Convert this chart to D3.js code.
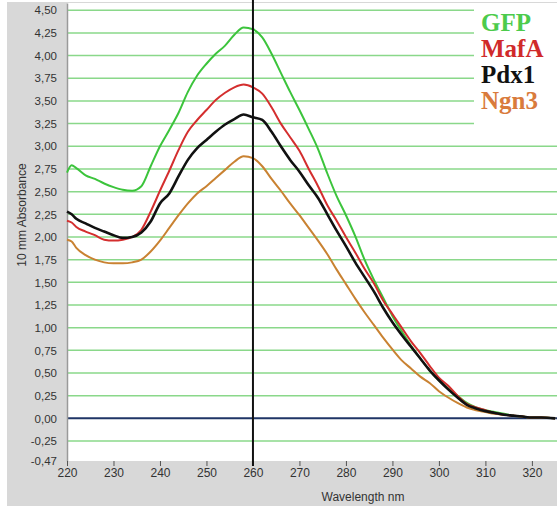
<!DOCTYPE html>
<html>
<head>
<meta charset="utf-8">
<script src="https://cdn.jsdelivr.net/npm/d3@7"></script>
<style>
  body { margin: 0; background: #fff; }
  text { font-family: "Liberation Sans", Arial, sans-serif; }
</style>
</head>
<body>
<div id="chart"></div>
<script>
// wavelengths (nm) shared by all spectra
var wavelengths = [220, 221, 222, 224, 226, 228, 230, 232, 234, 236, 238, 240, 242, 244, 246, 248, 250,
  252, 254, 256, 258, 260, 262, 264, 266, 268, 270, 272, 274, 276, 278, 280, 282, 284, 286, 288, 290,
  292, 294, 296, 298, 300, 302, 304, 306, 308, 310, 312, 314, 316, 318, 320, 322, 325];

// absorbance values
var gfp = [2.71, 2.79, 2.76, 2.68, 2.64, 2.59, 2.55, 2.52, 2.51, 2.56, 2.78, 3.00, 3.18, 3.37, 3.60, 3.78, 3.91,
  4.02, 4.11, 4.23, 4.31, 4.29, 4.20, 4.02, 3.81, 3.60, 3.40, 3.19, 2.97, 2.70, 2.45, 2.24, 2.01, 1.75, 1.53, 1.33, 1.13,
  0.96, 0.80, 0.66, 0.53, 0.42, 0.33, 0.25, 0.17, 0.12, 0.09, 0.07, 0.05, 0.03, 0.02, 0.01, 0.01, 0.00];
var mafa = [2.18, 2.16, 2.11, 2.06, 2.02, 1.97, 1.96, 1.97, 2.00, 2.08, 2.28, 2.51, 2.73, 2.96, 3.16, 3.29, 3.40,
  3.51, 3.59, 3.65, 3.68, 3.65, 3.58, 3.43, 3.25, 3.10, 2.95, 2.75, 2.56, 2.35, 2.18, 2.00, 1.83, 1.65, 1.49, 1.30, 1.15,
  1.00, 0.85, 0.72, 0.58, 0.45, 0.36, 0.25, 0.16, 0.12, 0.09, 0.06, 0.04, 0.03, 0.02, 0.01, 0.01, 0.00];
var pdx1 = [2.28, 2.25, 2.20, 2.15, 2.10, 2.06, 2.02, 1.99, 2.00, 2.05, 2.17, 2.37, 2.48, 2.67, 2.85, 2.98, 3.07,
  3.16, 3.24, 3.30, 3.35, 3.32, 3.29, 3.16, 3.00, 2.85, 2.72, 2.57, 2.43, 2.25, 2.07, 1.90, 1.72, 1.56, 1.40, 1.22, 1.06,
  0.92, 0.79, 0.66, 0.53, 0.42, 0.32, 0.23, 0.15, 0.11, 0.08, 0.06, 0.04, 0.03, 0.02, 0.01, 0.01, 0.00];
var ngn3 = [1.97, 1.95, 1.88, 1.80, 1.75, 1.72, 1.71, 1.71, 1.72, 1.75, 1.84, 1.96, 2.10, 2.24, 2.37, 2.48, 2.56,
  2.65, 2.74, 2.83, 2.89, 2.87, 2.78, 2.64, 2.51, 2.37, 2.24, 2.10, 1.96, 1.81, 1.64, 1.48, 1.32, 1.17, 1.03, 0.89, 0.76,
  0.64, 0.55, 0.46, 0.39, 0.30, 0.23, 0.17, 0.12, 0.09, 0.07, 0.05, 0.04, 0.03, 0.02, 0.01, 0.01, 0.00];

var seriesNames = ["GFP", "MafA", "Pdx1", "Ngn3"];

// tick labels
var yTicks = [4.5, 4.25, 4, 3.75, 3.5, 3.25, 3, 2.75, 2.5, 2.25, 2, 1.75, 1.5, 1.25, 1, 0.75, 0.5, 0.25, 0, -0.25, -0.47];
var xTicks = [220, 230, 240, 250, 260, 270, 280, 290, 300, 310, 320];
var markerWavelength = 260;

//svg sizes
var svgWidth = 557;
var svgHeight = 506;

//plot area edges
var plot = { left: 67, right: 557, top: 3, bottom: 461 };

var lineColors = ["#3cc43c", "#d42e2e", "#111111", "#c98232"];
var legendColors = ["#4ccb4c", "#d02a2a", "#111111", "#d97b3c"];

var svg = d3.select("#chart")
  .append("svg")
  .attr("width", svgWidth)
  .attr("height", svgHeight);

// grey window background
svg.append("rect")
  .attr("x", 7)
  .attr("y", 2)
  .attr("width", svgWidth - 7)
  .attr("height", svgHeight - 2)
  .attr("fill", "#d8d8d8");

// white plot area
svg.append("rect")
  .attr("x", plot.left)
  .attr("y", plot.top)
  .attr("width", plot.right - plot.left)
  .attr("height", plot.bottom - plot.top)
  .attr("fill", "#ffffff");

// scales
var xScale = d3.scaleLinear()
  .domain([220, 325.4])
  .range([plot.left, plot.right]);

var yScale = d3.scaleLinear()
  .domain([-0.47, 4.58])
  .range([plot.bottom, plot.top]);

var fmt = function(d) { return d3.format(".2f")(d).replace(".", ",").replace("−", "-"); };

// horizontal grid lines
var gridVals = yTicks.filter(function(d) { return d !== -0.47; });
svg.append("g")
  .selectAll("line")
  .data(gridVals)
  .enter()
  .append("line")
  .attr("x1", plot.left)
  .attr("x2", plot.right)
  .attr("y1", function(d) { return yScale(d); })
  .attr("y2", function(d) { return yScale(d); })
  .attr("stroke", function(d) { return d === 0 ? "#1f3566" : "#8ad88a"; })
  .attr("stroke-width", function(d) { return d === 0 ? 2 : 1.5; });

// y axis
var leftAxis = d3.axisLeft(yScale)
  .tickValues(yTicks)
  .tickSize(0)
  .tickPadding(10)
  .tickFormat(fmt);

var yAxis = svg.append("g")
  .attr("transform", `translate(${plot.left}, 0)`)
  .call(leftAxis);
yAxis.select(".domain").attr("stroke", "#9a9a9a").attr("stroke-width", 1.5);
yAxis.selectAll("text")
  .attr("font-size", "11.5px")
  .attr("fill", "#333");

// x axis
var bottomAxis = d3.axisBottom(xScale)
  .tickValues(xTicks)
  .tickSize(5)
  .tickPadding(2)
  .tickFormat(d3.format("d"));

var xAxis = svg.append("g")
  .attr("transform", `translate(0, ${plot.bottom})`)
  .call(bottomAxis);
xAxis.select(".domain").remove();
xAxis.selectAll("line").attr("stroke", "#555");
xAxis.selectAll("text")
  .attr("font-size", "12px")
  .attr("fill", "#333");

// axis titles
svg.append("text")
  .attr("x", (plot.left + plot.right) / 2 + 51)
  .attr("y", 501)
  .attr("text-anchor", "middle")
  .attr("font-size", "12px")
  .attr("fill", "#333")
  .text("Wavelength nm");

svg.append("text")
  .attr("transform", "rotate(-90)")
  .attr("x", -215)
  .attr("y", 26)
  .attr("text-anchor", "middle")
  .attr("font-size", "12px")
  .attr("fill", "#333")
  .text("10 mm Absorbance");

// legend box hides the grid behind it
svg.append("rect")
  .attr("x", 474)
  .attr("y", plot.top)
  .attr("width", plot.right - 474)
  .attr("height", 129)
  .attr("fill", "#ffffff");

// spectra
var allSeries = [gfp, mafa, pdx1, ngn3];
var line = d3.line()
  .x(function(d) { return xScale(d[0]); })
  .y(function(d) { return yScale(d[1]); })
  .curve(d3.curveMonotoneX);

// draw back to front so the black line sits on top
var drawOrder = [3, 0, 1, 2];
drawOrder.forEach(function(i) {
  var pts = wavelengths.map(function(w, j) { return [w, allSeries[i][j]]; });
  svg.append("path")
    .datum(pts)
    .attr("d", line)
    .attr("fill", "none")
    .attr("stroke", lineColors[i])
    .attr("stroke-width", i === 2 ? 2.6 : 2)
    .attr("stroke-linejoin", "round");
});

// cursor line at 260 nm
svg.append("line")
  .attr("x1", xScale(markerWavelength))
  .attr("x2", xScale(markerWavelength))
  .attr("y1", 0)
  .attr("y2", plot.bottom + 5)
  .attr("stroke", "#111")
  .attr("stroke-width", 2);

// legend text
var legendY = [31, 57, 83, 109];
svg.append("g")
  .selectAll("text")
  .data(seriesNames)
  .enter()
  .append("text")
  .attr("x", 481)
  .attr("y", function(d, i) { return legendY[i]; })
  .style("font-family", "'Liberation Serif', 'Times New Roman', serif")
  .style("font-weight", "bold")
  .style("font-size", "25px")
  .attr("fill", function(d, i) { return legendColors[i]; })
  .text(function(d) { return d; });
</script>
</body>
</html>
